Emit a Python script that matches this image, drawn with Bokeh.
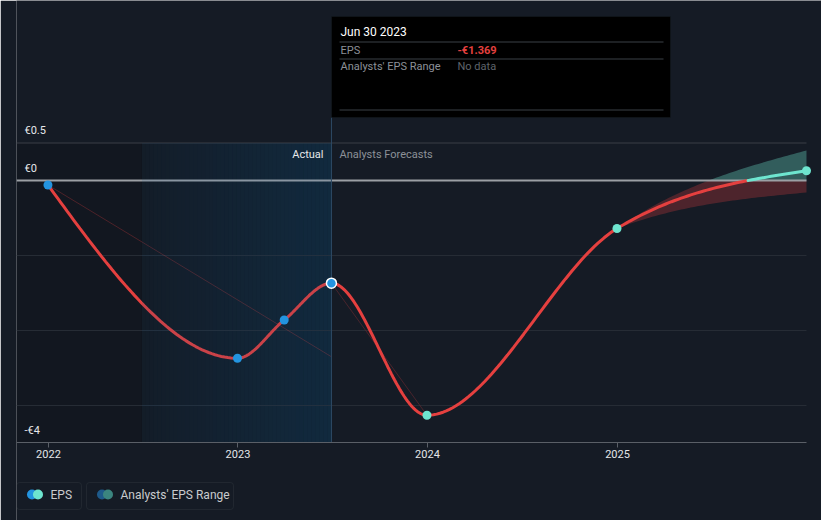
import numpy as np
from bokeh.plotting import figure
from bokeh.models import BoxAnnotation, Label, FixedTicker, DatetimeTickFormatter
from bokeh.embed import file_html
from bokeh.resources import INLINE

# ---------------- data ----------------
eps_dates = ["2021-12-31", "2022-12-31", "2023-03-31", "2023-06-30",
             "2023-12-31", "2024-12-31", "2025-12-31"]
eps_values = [-0.06, -2.37, -1.86, -1.369, -3.13, -0.64, 0.13]
eps_forecast = [False, False, False, False, True, True, True]

range_dates = ["2023-12-31", "2024-12-31", "2025-12-31"]
range_low = [-3.13, -0.64, -0.16]
range_high = [-3.13, -0.64, 0.40]

trend_dates = ["2021-12-31", "2023-06-30"]
trend_values = [-0.06, -2.35]
trend2_dates = ["2023-06-30", "2023-12-31"]
trend2_values = [-1.369, -3.13]

tick_years = ["2022", "2023", "2024", "2025"]
y_label_texts = ["€0.5", "€0", "-€4"]
grid_values = [-1, -2, -3]
hover_index = 3
actual_start = "2022-06-30"
y_top, y_min = 0.5, -3.49

# ---------------- helpers ----------------
DAY = 86400000.0

def ms(d):
    return float(np.datetime64(d, "ms").astype("int64"))

def monotone(xs, ys, n=60):
    xs = np.asarray(xs, float); ys = np.asarray(ys, float)
    h = np.diff(xs); s = np.diff(ys) / h
    m = len(xs)
    t = np.zeros(m)
    if m == 2:
        t[:] = s[0]
    else:
        for i in range(1, m - 1):
            p = (s[i - 1] * h[i] + s[i] * h[i - 1]) / (h[i - 1] + h[i])
            t[i] = (np.sign(s[i - 1]) + np.sign(s[i])) * min(abs(s[i - 1]), abs(s[i]), 0.5 * abs(p))
        t[0] = (3 * s[0] - t[1]) / 2
        t[-1] = (3 * s[-1] - t[-2]) / 2
    X, Y = [], []
    for i in range(m - 1):
        u = np.linspace(0, 1, n)
        if i > 0:
            u = u[1:]
        h00 = 2 * u**3 - 3 * u**2 + 1
        h10 = u**3 - 2 * u**2 + u
        h01 = -2 * u**3 + 3 * u**2
        h11 = u**3 - u**2
        X.append(xs[i] + u * h[i])
        Y.append(h00 * ys[i] + h10 * h[i] * t[i] + h01 * ys[i + 1] + h11 * h[i] * t[i + 1])
    return np.concatenate(X), np.concatenate(Y)

def split_sign(x, y):
    """split a polyline into runs of negative and positive values"""
    runs = []
    cur_x, cur_y = [x[0]], [y[0]]
    cur_sign = y[0] >= 0
    for i in range(1, len(x)):
        sg = y[i] >= 0
        if sg != cur_sign:
            xc = x[i - 1] + (0 - y[i - 1]) * (x[i] - x[i - 1]) / (y[i] - y[i - 1])
            cur_x.append(xc); cur_y.append(0.0)
            runs.append((cur_sign, cur_x, cur_y))
            cur_x, cur_y = [xc], [0.0]
            cur_sign = sg
        cur_x.append(x[i]); cur_y.append(y[i])
    runs.append((cur_sign, cur_x, cur_y))
    return runs

# colours
BG = "#151b25"
RED = "#e5403f"
TEAL = "#6ee5cf"
BLUE = "#2394e0"

# ---------------- figure ----------------
x_start = ms("2022-01-01") - 61.6 * DAY
x_last = ms(eps_dates[-1])
x_end = x_last + 28.9 * DAY
p = figure(width=821, height=520, x_axis_type="datetime", y_axis_location=None,
           x_range=(x_start, x_end), y_range=(-4.5333, 2.4),
           output_backend="svg", toolbar_location=None,
           min_border_left=16, min_border_right=0, min_border_top=0, min_border_bottom=0,
           background_fill_color=BG, border_fill_color=BG, outline_line_color=None)
p.grid.visible = False

ax = p.xaxis[0]
ax.fixed_location = y_min
ax.bounds = (x_start, x_last)
ax.ticker = FixedTicker(ticks=[ms(f"{y}-01-01") for y in tick_years])
ax.formatter = DatetimeTickFormatter(years="%Y", months="%Y", days="%Y", hours="%Y")
ax.axis_line_color = "#5a5f67"
ax.major_tick_line_color = "#5a5f67"
ax.major_tick_out = 5
ax.major_tick_in = 0
ax.minor_tick_line_color = None
ax.major_label_text_color = "#e4e6e8"
ax.major_label_text_font = "Roboto"
ax.major_label_text_font_size = "11px"
ax.major_label_standoff = 3

# darker "older" region
p.quad(left=[x_start], right=[ms(actual_start)], top=[y_top], bottom=[y_min],
       fill_color="#000000", fill_alpha=0.13, line_color=None)

# "actual" window: opaque blue ramp behind the line ...
OV_RGB = np.array([10, 82, 143.0])
OV_A = 0.12
ramp_left = np.array([20, 29, 41.0])
ramp_right = np.array([18, 42, 63.0])
n_strips = 48
edges = np.linspace(ms(actual_start), ms(eps_dates[hover_index]), n_strips + 1)
strip_colors = []
for f in np.linspace(0, 1, n_strips):
    target = ramp_left + f * (ramp_right - ramp_left)
    c = np.clip((target - OV_A * OV_RGB) / (1 - OV_A), 0, 255).round().astype(int)
    strip_colors.append("#%02x%02x%02x" % tuple(c))
p.quad(left=edges[:-1], right=edges[1:] + 0.3 * DAY, top=y_top, bottom=y_min,
       fill_color=strip_colors, line_color=None)

# grid lines (end at the last forecast date)
p.segment(x0=x_start, x1=x_last, y0=grid_values, y1=grid_values,
          line_color="#262c35", line_width=1)
p.segment(x0=[x_start], x1=[x_last], y0=[y_top], y1=[y_top],
          line_color="#3a3f47", line_width=1)

# analysts range band
bx = [ms(d) for d in range_dates]
rxl, ryl = monotone(bx, range_low)
rxh, ryh = monotone(bx, range_high)
mask = rxl >= ms(range_dates[1]) - 1
p.varea(x=rxl[mask], y1=np.minimum(ryl[mask], 0), y2=np.minimum(ryh[mask], 0),
        fill_color=RED, fill_alpha=0.27)
p.varea(x=rxl[mask], y1=np.maximum(ryl[mask], 0), y2=np.maximum(ryh[mask], 0),
        fill_color=TEAL, fill_alpha=0.33)

# zero line
p.segment(x0=[x_start], x1=[x_last], y0=[0], y1=[0], line_color="#9b9fa4", line_width=2)

# faint trend lines
p.line([ms(d) for d in trend_dates], trend_values, line_color=RED, line_alpha=0.28, line_width=1)
p.line([ms(d) for d in trend2_dates], trend2_values, line_color="#6a2a30", line_alpha=0.6, line_width=1)

# main EPS curve
ex = [ms(d) for d in eps_dates]
cx, cy = monotone(ex, eps_values)
for pos, rx, ry in split_sign(cx, cy):
    p.line(rx, ry, line_color=TEAL if pos else RED, line_width=3, line_cap="round")

# ... and a light uniform tint over it (mutes the line inside the window)
p.quad(left=[ms(actual_start)], right=[ex[hover_index]], top=[y_top], bottom=[y_min],
       fill_color="#%02x%02x%02x" % tuple(OV_RGB.astype(int)), fill_alpha=OV_A, line_color=None)

# crosshair at hovered date
p.segment(x0=[ex[hover_index]], y0=[y_min], x1=[ex[hover_index]], y1=[0.84],
          line_color="#2d4a64", line_width=1)

# dots
past_x = [x for x, f in zip(ex, eps_forecast) if not f]
past_y = [y for y, f in zip(eps_values, eps_forecast) if not f]
fc_x = [x for x, f in zip(ex, eps_forecast) if f]
fc_y = [y for y, f in zip(eps_values, eps_forecast) if f]
p.scatter(past_x, past_y, size=9, fill_color=BLUE, line_color=None)
p.scatter(fc_x, fc_y, size=9, fill_color=TEAL, line_color=None)
p.scatter([ex[hover_index]], [eps_values[hover_index]], size=10, fill_color=BLUE,
          line_color="#ffffff", line_width=1.5)

# ---------------- annotations (screen units, frame relative) ----------------
def sx(rx):
    return rx - 16

def sy(ry):
    return 520 - ry

def label(text, x, y, color, size="11px", align="left", style="normal"):
    p.add_layout(Label(x=sx(x), y=sy(y), x_units="screen", y_units="screen", text=text,
                       text_color=color, text_font="Roboto", text_font_size=size,
                       text_align=align, text_baseline="middle", text_font_style=style,
                       level="overlay"))

def box(l, r, t, b, fill=None, line=None, radius=0, alpha=1.0):
    p.add_layout(BoxAnnotation(left=sx(l), right=sx(r), top=sy(t), bottom=sy(b),
                               left_units="screen", right_units="screen",
                               top_units="screen", bottom_units="screen",
                               fill_color=fill, fill_alpha=alpha if fill else 0,
                               line_color=line, line_width=1, border_radius=int(radius),
                               level="overlay"))

# y value labels
for txt, ry in zip(y_label_texts, [130, 168, 430]):
    label(txt, 24, ry, "#e6e8ea")

label("Actual", 323, 154, "#e6e8ea", align="right")
label("Analysts Forecasts", 339, 154, "#8c9198")

# tooltip
hover_date = np.datetime64(eps_dates[hover_index]).astype(object)
box(331, 670, 16, 117, fill="#000000", line="#1f242b")
for ry in [41, 58, 109]:
    box(339, 663, ry, ry + 1, fill="#3b4047")
label(hover_date.strftime("%b %d %Y"), 340, 31, "#ffffff", size="12px")
label("EPS", 340, 49.5, "#8c9198")
v = eps_values[hover_index]
label(("-" if v < 0 else "") + "€" + f"{abs(v):.3f}", 457, 49.5, RED, style="bold")
label("Analysts' EPS Range", 340, 66, "#8c9198")
label("No data", 457, 66, "#5f646b")

# legend
box(16, 81, 482, 509, line="#40454d", radius=3)
box(86, 233, 482, 509, line="#40454d", radius=3)
box(26.5, 36.5, 489, 499, fill=BLUE, radius=5)
box(32.5, 42.5, 489, 499, fill=TEAL, radius=5)
box(96.5, 106.5, 489, 499, fill="#1e5a8a", radius=5)
box(102.5, 112.5, 489, 499, fill="#3b857f", radius=5)
label("EPS", 50, 494.5, "#c9cbce", size="12px")
label("Analysts' EPS Range", 120, 494.5, "#c9cbce", size="12px")

open("out.html", "w").write(file_html(p, INLINE))
